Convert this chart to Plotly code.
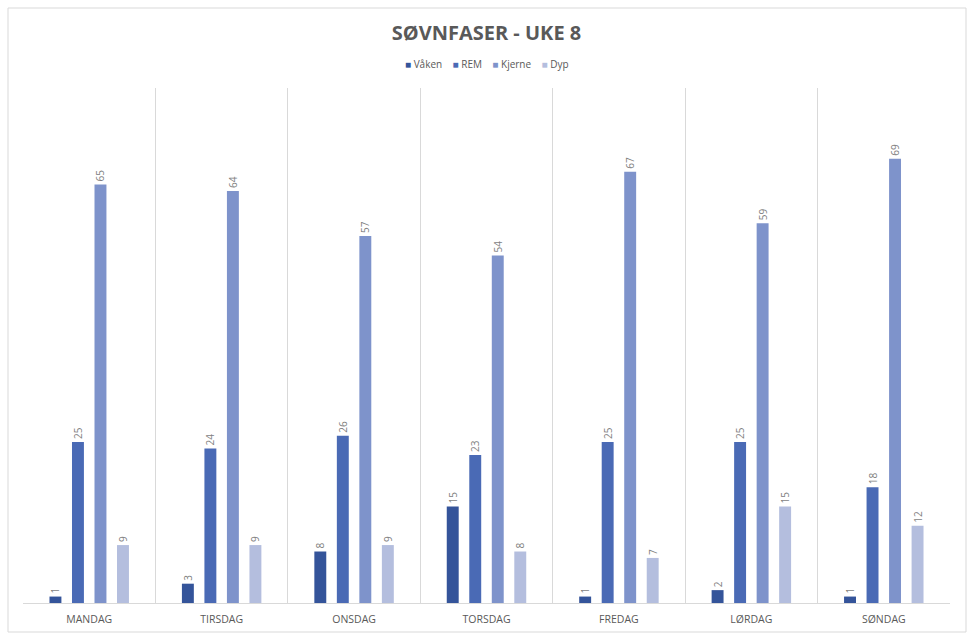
import plotly.graph_objects as go

days = ["MANDAG", "TIRSDAG", "ONSDAG", "TORSDAG", "FREDAG", "LØRDAG", "SØNDAG"]
vaken = [1, 3, 8, 15, 1, 2, 1]
rem = [25, 24, 26, 23, 25, 25, 18]
kjerne = [65, 64, 57, 54, 67, 59, 69]
dyp = [9, 9, 9, 8, 7, 15, 12]

series = [
    ("Våken", vaken, "#34549A"),
    ("REM", rem, "#4A6AB5"),
    ("Kjerne", kjerne, "#7E93CB"),
    ("Dyp", dyp, "#B4BEDE"),
]

fig = go.Figure()
for name, vals, col in series:
    fig.add_trace(go.Bar(
        x=days, y=vals, name=name, marker=dict(color=col, line=dict(width=0)),
        text=vals, textposition="outside", textangle=-90,
        textfont=dict(size=10, color="#7F7F7F", family="Open Sans"),
        cliponaxis=False, showlegend=False,
    ))

W, H = 973, 640
l, r, t, b = 23, 23, 88, 37
pw, ph = W - l - r, H - t - b

legend_text = "&nbsp;&nbsp;&nbsp;&nbsp;".join(
    f'<span style="color:{col}">■</span>&nbsp;<span style="color:#595959">{name}</span>'
    for name, _, col in series
)

fig.update_layout(
    width=W, height=H,
    margin=dict(l=l, r=r, t=t, b=b),
    paper_bgcolor="white", plot_bgcolor="white",
    barmode="group", bargap=0.32, bargroupgap=0.47,
    title=dict(text="<b>SØVNFASER - UKE 8</b>", x=0.5, xanchor="center", y=1 - 33 / H, yanchor="middle",
               font=dict(size=20, color="#595959", family="Open Sans")),
    annotations=[dict(text=legend_text, xref="paper", yref="paper", x=0.5, xanchor="center",
                      y=1 + (t - 64) / ph, yanchor="middle", showarrow=False,
                      font=dict(size=10, color="#595959", family="Open Sans"))],
    xaxis=dict(type="category", tickson="boundaries", showgrid=True, gridcolor="#D9D9D9", gridwidth=1,
               showline=True, linecolor="#D9D9D9", ticks="", mirror=False, ticklabelstandoff=6,
               tickfont=dict(size=10.5, color="#595959", family="Open Sans")),
    yaxis=dict(range=[0, 80], visible=False, showgrid=False),
    shapes=[dict(type="rect", xref="paper", yref="paper",
                 x0=(8 - l) / pw, x1=(966 - l) / pw, y0=(603 - 632) / ph, y1=(603 - 8) / ph,
                 line=dict(color="#D9D9D9", width=1), fillcolor="rgba(0,0,0,0)", layer="below")],
)

fig.write_html("out.html")
